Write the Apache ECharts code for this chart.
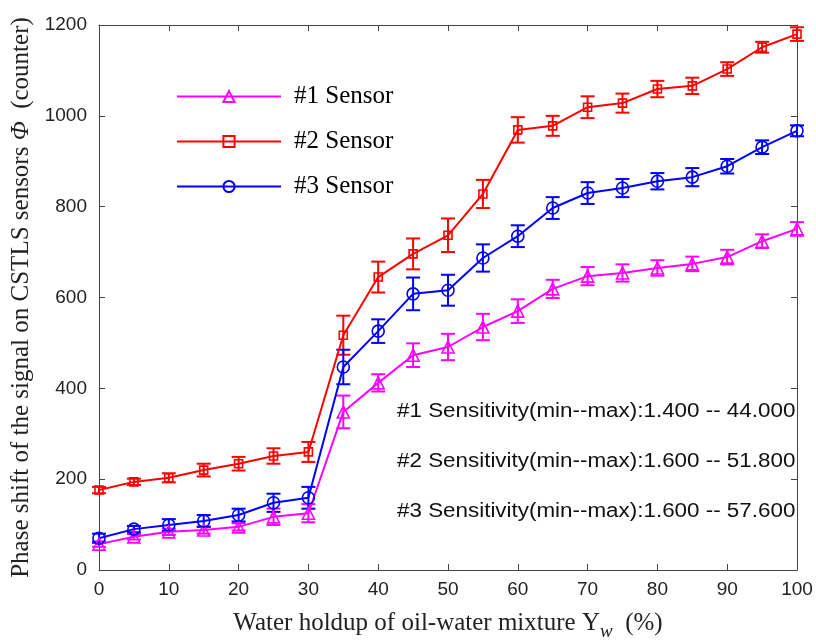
<!DOCTYPE html>
<html>
<head>
<meta charset="utf-8">
<script src="https://cdn.jsdelivr.net/npm/echarts@6/dist/echarts.min.js"></script>
<style>
  html, body { margin: 0; padding: 0; background: #fff; }
  #main { width: 816px; height: 642px; }
</style>
</head>
<body>
<div id="main"></div>
<script>
// water holdup (%)
var holdup = [0, 5, 10, 15, 20, 25, 30, 35, 40, 45, 50, 55, 60, 65, 70, 75, 80, 85, 90, 95, 100];

var s1Values = [57, 73, 84, 88, 95, 117, 125, 348, 412, 473, 491, 535, 570, 619, 647, 654, 665, 674, 689, 724, 751];
var s1Errors = [6, 6, 7, 8, 8, 18, 20, 36, 19, 26, 29, 29, 26, 20, 20, 19, 17, 16, 16, 15, 15];

var s2Values = [176, 194, 203, 220, 234, 251, 260, 517, 645, 696, 737, 828, 969, 978, 1019, 1028, 1059, 1066, 1103, 1151, 1180];
var s2Errors = [7, 7, 10, 14, 15, 17, 22, 43, 34, 34, 37, 31, 28, 22, 24, 21, 18, 18, 15, 12, 15];

var s3Values = [70, 90, 99, 108, 121, 148, 159, 447, 526, 608, 616, 687, 735, 797, 830, 841, 856, 865, 889, 931, 967];
var s3Errors = [10, 7, 13, 13, 14, 20, 24, 38, 26, 36, 34, 30, 24, 24, 24, 20, 18, 20, 16, 15, 12];

var sensorNames = ['#1 Sensor', '#2 Sensor', '#3 Sensor'];
var sensitivityText = [
  '#1 Sensitivity(min--max):1.400 -- 44.000',
  '#2 Sensitivity(min--max):1.600 -- 51.800',
  '#3 Sensitivity(min--max):1.600 -- 57.600'
];

var colors = ['#ff00ff', '#ff0000', '#0000ff'];

function pairs(vals) {
  return holdup.map(function (x, i) { return [x, vals[i]]; });
}
function errData(vals, errs) {
  return holdup.map(function (x, i) { return [x, vals[i] - errs[i], vals[i] + errs[i]]; });
}

function errorSeries(vals, errs, color) {
  return {
    type: 'custom',
    data: errData(vals, errs),
    z: 3,
    silent: true,
    renderItem: function (params, api) {
      var x = api.value(0);
      var lo = api.coord([x, api.value(1)]);
      var hi = api.coord([x, api.value(2)]);
      var w = 7;
      var st = { stroke: color, lineWidth: 2 };
      return {
        type: 'group',
        children: [
          { type: 'line', shape: { x1: lo[0], y1: lo[1], x2: hi[0], y2: hi[1] }, style: st },
          { type: 'line', shape: { x1: lo[0] - w, y1: lo[1], x2: lo[0] + w, y2: lo[1] }, style: st },
          { type: 'line', shape: { x1: hi[0] - w, y1: hi[1], x2: hi[0] + w, y2: hi[1] }, style: st }
        ]
      };
    }
  };
}

function lineSeries(name, vals, color, symbol, size) {
  return {
    name: name,
    type: 'line',
    data: pairs(vals),
    symbol: symbol,
    symbolSize: size,
    showAllSymbol: true,
    z: 4,
    lineStyle: { color: color, width: 2 },
    itemStyle: { color: 'rgba(255,255,255,0)', borderColor: color, borderWidth: 1.6 }
  };
}

var myChart = echarts.init(document.getElementById('main'));

var axisLine = { show: true, onZero: false, lineStyle: { color: '#444', width: 1 } };
var tickStyle = { show: true, inside: true, length: 6, lineStyle: { color: '#444' } };
var plainNum = function (v) { return String(v); };

var option = {
  animation: false,
  backgroundColor: '#fff',
  color: colors,
  grid: { left: 99, right: 19, top: 25, bottom: 72, containLabel: false, outerBoundsMode: 'none' },
  legend: {
    data: sensorNames,
    orient: 'vertical',
    left: 171,
    top: 79,
    itemWidth: 104,
    itemHeight: 14,
    itemGap: 20,
    textStyle: { fontFamily: 'Liberation Serif', fontSize: 25, color: '#000', padding: [0, 0, 0, 8] }
  },
  xAxis: [{
    type: 'value',
    min: 0, max: 100, interval: 10,
    position: 'bottom',
    axisLine: axisLine,
    axisTick: tickStyle,
    splitLine: { show: false },
    axisLabel: { fontFamily: 'Liberation Sans', fontSize: 19, color: '#222', margin: 10, formatter: plainNum },
    name: 'Water holdup of oil-water mixture Y{sub|w}  (%)',
    nameLocation: 'middle',
    nameGap: 36,
    nameTextStyle: {
      fontFamily: 'Liberation Serif', fontSize: 25, color: '#222',
      rich: { sub: { fontFamily: 'Liberation Serif', fontStyle: 'italic', fontSize: 19, color: '#222', verticalAlign: 'bottom', padding: [16, 0, 0, 0] } }
    }
  }, {
    type: 'value',
    min: 0, max: 100, interval: 10,
    position: 'top',
    axisLine: axisLine,
    axisTick: tickStyle,
    axisLabel: { show: false },
    splitLine: { show: false }
  }],
  yAxis: [{
    type: 'value',
    min: 0, max: 1200, interval: 200,
    position: 'left',
    axisLine: axisLine,
    axisTick: tickStyle,
    splitLine: { show: false },
    axisLabel: { fontFamily: 'Liberation Sans', fontSize: 19, color: '#222', margin: 12, formatter: plainNum },
    name: 'Phase shift of the signal on CSTLS sensors {it|Φ}  (counter)',
    nameLocation: 'middle',
    nameGap: 65,
    nameTextStyle: {
      fontFamily: 'Liberation Serif', fontSize: 25, color: '#222',
      rich: { it: { fontFamily: 'Liberation Serif', fontStyle: 'italic', fontSize: 25, color: '#222' } }
    }
  }, {
    type: 'value',
    min: 0, max: 1200, interval: 200,
    position: 'right',
    axisLine: axisLine,
    axisTick: tickStyle,
    axisLabel: { show: false },
    splitLine: { show: false }
  }],
  graphic: sensitivityText.map(function (t, i) {
    return {
      type: 'text',
      x: 397,
      y: 401 + i * 50,
      scaleX: 1.12,
      z: 10,
      style: { text: t, fontFamily: 'Liberation Sans', fontSize: 20, fill: '#111' }
    };
  }),
  series: [
    errorSeries(s1Values, s1Errors, colors[0]),
    errorSeries(s2Values, s2Errors, colors[1]),
    errorSeries(s3Values, s3Errors, colors[2]),
    lineSeries(sensorNames[0], s1Values, colors[0], 'triangle', 12),
    lineSeries(sensorNames[1], s2Values, colors[1], 'rect', 8),
    lineSeries(sensorNames[2], s3Values, colors[2], 'circle', 12)
  ]
};

myChart.setOption(option);
</script>
</body>
</html>
